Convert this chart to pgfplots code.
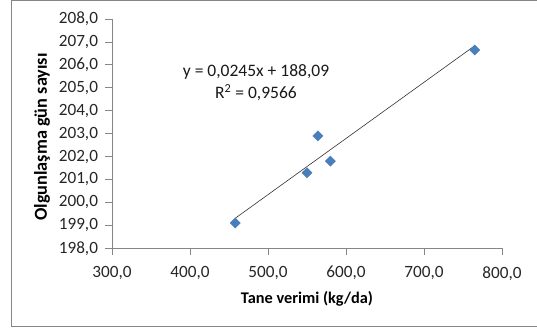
\documentclass[border=0pt]{standalone}
\usepackage{pgfplots}
\pgfplotsset{compat=1.18}
\usepackage{fontspec}
\setmainfont{Carlito}
\definecolor{mk}{RGB}{74,126,187}
\definecolor{axc}{RGB}{134,134,134}
\begin{document}
\begin{tikzpicture}
\useasboundingbox (0,0) rectangle (537bp,331bp);
\draw[axc, line width=1bp] (11bp,4bp) rectangle (560bp,330bp);
\begin{axis}[
  at={(112bp,82.7bp)}, anchor=south west,
  scale only axis, width=390bp, height=229.3bp,
  xmin=300, xmax=800, ymin=198, ymax=208,
  xtick={300,400,...,800}, ytick={198,199,...,208},
  axis x line*=bottom, axis y line*=left,
  axis line style={axc, line width=0.8bp},
  tick style={axc, line width=0.8bp},
  tick align=outside, major tick length=7bp,
  font=\fontsize{17.2bp}{20bp}\selectfont,
  ticklabel style={font=\fontsize{17.2bp}{20bp}\selectfont, text=black!85},
  xticklabel style={yshift=-7.5bp},
  yticklabel style={xshift=-3.5bp},
  /pgf/number format/.cd, fixed, fixed zerofill, precision=1, use comma, assume math mode=true,
  /pgfplots/.cd,
  xlabel={\bfseries Tane verimi (kg/da)},
  ylabel={\bfseries Olgunlaşma gün sayısı},
  xlabel style={at={(axis description cs:0.5,-0.22)}, anchor=center, font=\fontsize{16.3bp}{19bp}\selectfont},
  ylabel style={at={(axis description cs:-0.1795,0.485)}, anchor=center, rotate=0, font=\fontsize{18.3bp}{21bp}\selectfont},
  clip=false,
]
\addplot[only marks, mark=square*, mark size=3.6bp, mark options={rotate=45, fill=mk, draw=mk}] table {
x y
458 199.1
550 201.3
564 202.9
580 201.8
765 206.65
};
\addplot[black!80, line width=0.6bp, no marks] table {
x y
458 199.311
765 206.8325
};
\node[align=center, font=\fontsize{17.5bp}{21.5bp}\selectfont, text=black!90] at (axis cs:484.6,205.22) {y = 0,0245x + 188,09\\R\textsuperscript{2} = 0,9566};
\end{axis}
\end{tikzpicture}
\end{document}
